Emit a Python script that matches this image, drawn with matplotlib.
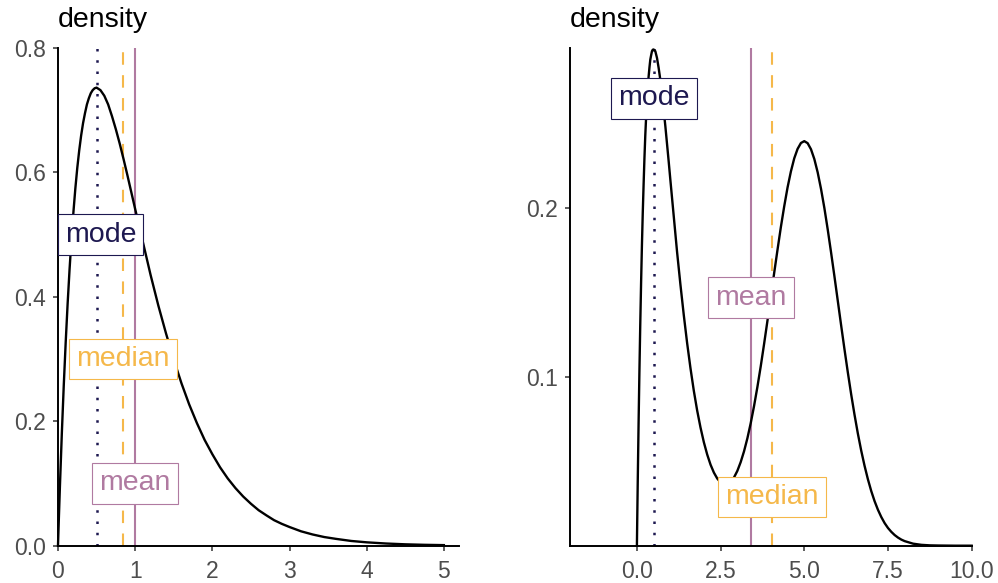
import matplotlib.pyplot as plt
from matplotlib.ticker import FormatStrFormatter

plt.rcParams['font.family'] = ['Liberation Sans', 'DejaVu Sans']

# right-skewed density (left panel)
skew_x = [0, 0.01, 0.025, 0.05, 0.075, 0.1, 0.125, 0.15, 0.175, 0.2, 0.225, 0.25,
          0.275, 0.3, 0.325, 0.35, 0.375, 0.4, 0.425, 0.45, 0.475, 0.5, 0.55, 0.6,
          0.65, 0.7, 0.75, 0.8, 0.85, 0.9, 0.95, 1.0, 1.1, 1.2, 1.3, 1.4, 1.5, 1.6,
          1.7, 1.8, 1.9, 2.0, 2.1, 2.2, 2.3, 2.4, 2.5, 2.6, 2.7, 2.8, 2.9, 3.0,
          3.15, 3.3, 3.45, 3.6, 3.8, 4.0, 4.25, 4.5, 4.75, 5.0]
skew_y = [0, 0.039, 0.095, 0.181, 0.258, 0.327, 0.389, 0.444, 0.493, 0.536, 0.574,
          0.607, 0.635, 0.659, 0.679, 0.695, 0.709, 0.719, 0.727, 0.732, 0.735,
          0.736, 0.732, 0.723, 0.709, 0.690, 0.669, 0.646, 0.621, 0.595, 0.568,
          0.541, 0.488, 0.435, 0.386, 0.341, 0.299, 0.261, 0.227, 0.197, 0.170,
          0.147, 0.126, 0.108, 0.0925, 0.079, 0.0674, 0.057, 0.0488, 0.041, 0.0351,
          0.030, 0.0231, 0.018, 0.0139, 0.011, 0.0076, 0.0054, 0.0035, 0.0022,
          0.0014, 0.0009]
skew_stats = [0.5, 0.839, 1.0]

# bimodal density (right panel)
bimodal_x = [0, 0.01, 0.025, 0.05, 0.075, 0.1, 0.125, 0.15, 0.175, 0.2, 0.225, 0.25,
             0.275, 0.3, 0.325, 0.35, 0.375, 0.4, 0.425, 0.45, 0.475, 0.5, 0.55,
             0.6, 0.65, 0.7, 0.75, 0.8, 0.85, 0.9, 0.95, 1.0, 1.1, 1.2, 1.3, 1.4,
             1.5, 1.6, 1.7, 1.8, 1.9, 2.0, 2.1, 2.2, 2.3, 2.4, 2.5, 2.6, 2.7, 2.8,
             2.9, 3.0, 3.1, 3.2, 3.3, 3.4, 3.5, 3.6, 3.7, 3.8, 3.9, 4.0, 4.1, 4.2,
             4.3, 4.4, 4.5, 4.6, 4.7, 4.8, 4.9, 5.0, 5.1, 5.2, 5.3, 5.4, 5.5, 5.6,
             5.7, 5.8, 5.9, 6.0, 6.1, 6.2, 6.3, 6.4, 6.5, 6.6, 6.7, 6.8, 6.9, 7.0,
             7.1, 7.2, 7.3, 7.4, 7.5, 7.6, 7.7, 7.8, 7.9, 8.0, 8.25, 8.5, 8.75, 9.0,
             9.5, 10.0]
bimodal_y = [0, 0.0157, 0.038, 0.0724, 0.1033, 0.131, 0.1558, 0.178, 0.1973, 0.214,
             0.2295, 0.243, 0.2538, 0.264, 0.2714, 0.278, 0.2834, 0.288, 0.2906,
             0.293, 0.2939, 0.294, 0.293, 0.289, 0.283, 0.276, 0.268, 0.258, 0.2485,
             0.238, 0.2275, 0.2166, 0.1953, 0.174, 0.1547, 0.1367, 0.1201, 0.1052,
             0.0918, 0.0801, 0.0700, 0.0613, 0.0540, 0.0480, 0.0433, 0.0398, 0.0375,
             0.0364, 0.0365, 0.0378, 0.0404, 0.0443, 0.0495, 0.0559, 0.0636, 0.0726,
             0.0828, 0.0941, 0.1064, 0.1196, 0.1333, 0.1473, 0.1615, 0.1753, 0.1887,
             0.2010, 0.2122, 0.2217, 0.2295, 0.2351, 0.2386, 0.2397, 0.2385, 0.2349,
             0.2291, 0.2212, 0.2114, 0.2001, 0.1874, 0.1738, 0.1597, 0.1452, 0.1307,
             0.1165, 0.1028, 0.0898, 0.0777, 0.0665, 0.0564, 0.0474, 0.0394, 0.0324,
             0.0264, 0.0213, 0.0170, 0.0134, 0.0105, 0.0082, 0.0063, 0.0048, 0.0036,
             0.0027, 0.0012, 0.0005, 0.0002, 0.0001, 0, 0]
bimodal_stats = [0.5, 4.04, 3.4]

stat_names = ['mode', 'median', 'mean']
stat_colors = ['#1d1850', '#f5b84a', '#b07aa1']
stat_styles = [(0, (1, 3.5)), (0, (6, 5)), '-']
stat_widths = [1.8, 1.5, 1.5]


def draw_panel(ax, xs, ys, stats, label_pos, xlim, ylim, xticks, yticks, xfmt, yfmt):
    for x, color, ls, lw in zip(stats, stat_colors, stat_styles, stat_widths):
        ax.axvline(x, color=color, linestyle=ls, linewidth=lw, zorder=2)
    ax.plot(xs, ys, color='black', linewidth=1.7, zorder=3, clip_on=False,
            solid_joinstyle='round')
    for name, color, (lx, ly) in zip(stat_names, stat_colors, label_pos):
        ax.text(lx, ly, name, color=color, fontsize=20.5, ha='center', va='center',
                zorder=5,
                bbox=dict(boxstyle='square,pad=0.25', facecolor='white',
                          edgecolor=color, linewidth=0.8))
    ax.set_xlim(*xlim)
    ax.set_ylim(*ylim)
    ax.set_xticks(xticks)
    ax.set_yticks(yticks)
    ax.xaxis.set_major_formatter(FormatStrFormatter(xfmt))
    ax.yaxis.set_major_formatter(FormatStrFormatter(yfmt))
    for side in ['top', 'right']:
        ax.spines[side].set_visible(False)
    for side in ['left', 'bottom']:
        ax.spines[side].set_linewidth(1.4)
        ax.spines[side].set_color('black')
    ax.tick_params(length=3.6, width=1.1, color='#333333', labelsize=16.5,
                   labelcolor='#4d4d4d')
    ax.tick_params(axis='x', pad=6.5)
    ax.tick_params(axis='y', pad=5)
    ax.annotate('density', xy=(0, 1), xycoords='axes fraction',
                xytext=(0, 14.9), textcoords='offset points',
                ha='left', va='baseline', fontsize=20.5, color='black')


fig = plt.figure(figsize=(9.98, 5.83), dpi=100)
ax1 = fig.add_axes([0.0581, 0.064, 0.4021, 0.854])
ax2 = fig.add_axes([0.5711, 0.064, 0.4025, 0.854])

draw_panel(ax1, skew_x, skew_y, skew_stats,
           [(0.55, 0.5), (0.839, 0.3), (1.0, 0.1)],
           (0, 5.2), (0, 0.8), [0, 1, 2, 3, 4, 5], [0, 0.2, 0.4, 0.6, 0.8],
           '%d', '%.1f')
draw_panel(ax2, bimodal_x, bimodal_y, bimodal_stats,
           [(0.5, 0.265), (4.04, 0.029), (3.4, 0.147)],
           (-2, 10), (0, 0.295), [0, 2.5, 5, 7.5, 10], [0.1, 0.2],
           '%.1f', '%.1f')

fig.savefig('out.png', dpi=100)
